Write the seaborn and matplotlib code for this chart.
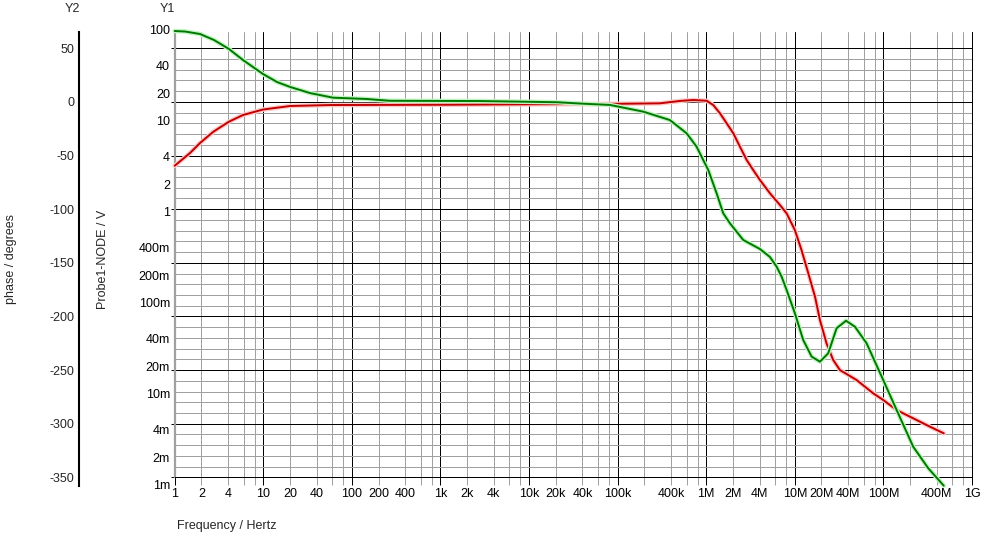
import numpy as np
import pandas as pd
import matplotlib
matplotlib.use("Agg")
import matplotlib.pyplot as plt
import matplotlib.patheffects as pe
import matplotlib.transforms as mtransforms
from matplotlib.ticker import NullLocator, FixedLocator, FixedFormatter
import seaborn as sns

# ---------------- data ----------------
freq_g = [1, 1.31, 1.93, 2.78, 4.10, 5.90, 9.92, 14.3, 20.0, 33.7, 61.2, 147, 269,
          2790, 20500, 40600, 81900, 194500, 389000, 601000, 779000, 925000,
          1.054e6, 1.31e6, 1.556e6, 1.853e6, 2.62e6, 4.04e6, 5.24e6, 6.23e6, 7.10e6,
          8.08e6, 1.002e7, 1.244e7, 1.549e7, 1.92e7, 2.38e7, 2.96e7, 3.78e7, 4.77e7,
          6.46e7, 9.95e7, 1.41e8, 2.17e8, 3.21e8, 4.8e8]
mag_g = [100, 98.7, 92.7, 79.6, 63.4, 48.0, 33.7, 27.5, 24.3, 20.8, 18.5, 17.9, 17.1,
         17.0, 16.5, 15.9, 15.4, 13.0, 10.5, 7.51, 5.35, 3.82,
         2.97, 1.646, 0.992, 0.770, 0.505, 0.402, 0.3285, 0.257, 0.1995,
         0.1426, 0.0791, 0.0402, 0.0264, 0.02323, 0.0287, 0.0541, 0.0655, 0.0563,
         0.0370, 0.01462, 0.00684, 0.00270, 0.001565, 0.001008]

freq_r = [1, 1.49, 1.93, 2.73, 4.10, 5.90, 9.92, 20, 56.6, 1280, 63100, 300000, 504000,
          708000, 1.01e6, 1.2e6, 1.43e6, 1.70e6, 2.02e6, 2.40e6, 2.86e6, 3.39e6, 4.04e6,
          5.24e6, 6.79e6, 8.08e6, 1.0e7, 1.19e7, 1.42e7, 1.69e7, 1.92e7, 2.28e7, 2.71e7,
          3.23e7, 4.98e7, 7.67e7, 9.95e7, 1.41e8, 2.17e8, 3.35e8, 4.8e8]
phase_r = [-59.5, -47.6, -38.3, -27.8, -18.4, -12.2, -7.1, -3.8, -2.9, -2.6, -1.9, -1.3, 0.9,
           1.8, 1.1, -2.9, -10.6, -19.9, -29.2, -41.7, -54.1, -63.5, -72.8,
           -85.2, -96.1, -103.9, -119.4, -138.1, -159.8, -181.6, -203.3, -225.1, -240.6,
           -250.0, -259.3, -271.7, -277.9, -287.3, -295.0, -302.8, -309.0]

x_major_vals = [1, 10, 100, 1e3, 1e4, 1e5, 1e6, 1e7, 1e8, 1e9]
x_major_labels = ["1", "10", "100", "1k", "10k", "100k", "1M", "10M", "100M", "1G"]
x_minor_vals = [2, 4, 20, 40, 200, 400, 2e3, 4e3, 2e4, 4e4, 4e5, 2e6, 4e6, 2e7, 4e7, 4e8]
x_minor_labels = ["2", "4", "20", "40", "200", "400", "2k", "4k", "20k", "40k", "400k",
                  "2M", "4M", "20M", "40M", "400M"]

y1_vals = [100, 40, 20, 10, 4, 2, 1, 0.4, 0.2, 0.1, 0.04, 0.02, 0.01, 0.004, 0.002, 0.001]
y1_labels = ["100", "40", "20", "10", "4", "2", "1", "400m", "200m", "100m", "40m",
             "20m", "10m", "4m", "2m", "1m"]
y2_vals = [50, 0, -50, -100, -150, -200, -250, -300, -350]
y2_labels = ["50", "0", "-50", "-100", "-150", "-200", "-250", "-300", "-350"]

# ---------------- style ----------------
sns.set_style("white")
plt.rcParams["font.family"] = ["Liberation Sans", "DejaVu Sans"]
plt.rcParams["font.size"] = 9

W, H = 981, 534
fig = plt.figure(figsize=(W / 100, H / 100), dpi=100)
fig.patch.set_facecolor("white")


def fx(px):
    return px / W


def fy(py):
    return 1 - py / H


L, R, T, B = 174.7, 972.0, 32.0, 477.3
GRAY = "#a0a0a0"

ax = fig.add_axes([fx(L), fy(B), (R - L) / W, (B - T) / H])
ax.set_xscale("log")

df_r = pd.DataFrame({"freq": freq_r, "phase": phase_r})
sns.lineplot(data=df_r, x="freq", y="phase", ax=ax, color="#c00000", lw=1.4,
             estimator=None, sort=False)
red_line = ax.lines[-1]
red_line.set_clip_on(False)
red_line.set_path_effects([pe.Stroke(linewidth=3.3, foreground="#ffc8c8"), pe.Normal()])
red_line.set_zorder(5)

# magnitude (Y1) on twin log axis
ax_g = ax.twinx()
ax_g.set_yscale("log")
df_g = pd.DataFrame({"freq": freq_g, "mag": mag_g})
sns.lineplot(data=df_g, x="freq", y="mag", ax=ax_g, color="#007800", lw=1.4,
             estimator=None, sort=False)
g_line = ax_g.lines[-1]
g_line.set_clip_on(False)
g_line.set_path_effects([pe.Stroke(linewidth=3.3, foreground="#c0f4c0"), pe.Normal()])
ax_g.set_ylim(10 ** (2 - (B - 31) / 91), 10 ** (2 - (T - 31) / 91))
ax_g.yaxis.set_major_locator(NullLocator())
ax_g.yaxis.set_minor_locator(NullLocator())
ax_g.set_ylabel("")
ax_g.set_xlabel("")
ax_g.grid(False)
for s in ax_g.spines.values():
    s.set_visible(False)

# ---------------- axes setup (after all plotting) ----------------
ax.set_xlim(1, 1e9)
ax.set_ylim(-350, 50 + (48.3 - T) / 1.0725)

minor_map = {round(float(np.log10(v)), 6): s for v, s in zip(x_minor_vals, x_minor_labels)}
minor_pos = [m * 10.0 ** k for k in range(0, 9) for m in (2, 4, 6, 8)]
minor_lbl = [minor_map.get(round(float(np.log10(v)), 6), "") for v in minor_pos]

ax.xaxis.set_major_locator(FixedLocator(x_major_vals))
ax.xaxis.set_major_formatter(FixedFormatter(x_major_labels))
ax.xaxis.set_minor_locator(FixedLocator(minor_pos))
ax.xaxis.set_minor_formatter(FixedFormatter(minor_lbl))
ax.tick_params(axis="x", which="both", direction="out", length=5.8, width=0.72, pad=2.0,
               labelsize=9, labelcolor="black", bottom=True)
ax.tick_params(axis="x", which="major", color="black")
ax.tick_params(axis="x", which="minor", color=GRAY)

ax.yaxis.set_major_locator(FixedLocator(y2_vals))
ax.yaxis.set_minor_locator(FixedLocator([v for v in range(-340, 41, 10) if v % 50 != 0]))
ax.tick_params(axis="y", which="major", direction="out", length=3, width=0.72,
               color="black", labelleft=False, left=True)
ax.tick_params(axis="y", which="minor", length=0, labelleft=False)

ax.set_axisbelow(True)
ax.grid(True, which="minor", axis="both", color=GRAY, lw=0.72)
ax.grid(True, which="major", axis="both", color="black", lw=0.72)
ax.set_xlabel("")
ax.set_ylabel("")

ax.spines["top"].set_visible(False)
ax.spines["left"].set_color(GRAY)
ax.spines["left"].set_linewidth(1.6)
ax.spines["bottom"].set_color("black")
ax.spines["bottom"].set_linewidth(0.72)
ax.spines["right"].set_color("black")
ax.spines["right"].set_linewidth(0.72)

trans = mtransforms.blended_transform_factory(ax.transAxes, ax_g.transData) + \
    mtransforms.ScaledTranslation(-4.7 / 100, 0, fig.dpi_scale_trans)
for v, s in zip(y1_vals, y1_labels):
    ax_g.text(0, v, s, transform=trans, ha="right", va="center", clip_on=False,
              fontsize=9, color="black")

# separate Y2 axis line with labels
Y2_TOP, Y2_BOT = 31.7, 485.7
ax2 = fig.add_axes([fx(79), fy(Y2_BOT), 0.0005, (Y2_BOT - Y2_TOP) / H])
ax2.set_facecolor("none")
ax2.set_ylim(-350 - (Y2_BOT - 477.3) / 1.0725, 50 + (48.3 - Y2_TOP) / 1.0725)
ax2.set_yticks(y2_vals, labels=y2_labels)
ax2.tick_params(axis="y", length=0, pad=3.6, labelsize=9)
ax2.xaxis.set_visible(False)
for s in ["top", "right", "bottom"]:
    ax2.spines[s].set_visible(False)
ax2.spines["left"].set_color("black")
ax2.spines["left"].set_linewidth(1.5)

# titles
fig.text(fx(72), fy(9.5), "Y2", ha="center", va="center", fontsize=9)
fig.text(fx(167), fy(9.5), "Y1", ha="center", va="center", fontsize=9)
fig.text(fx(11), fy(258.5), "phase / degrees", rotation=90, ha="center", va="center", fontsize=9)
fig.text(fx(103.5), fy(259.5), "Probe1-NODE / V", rotation=90, ha="center", va="center", fontsize=9)
fig.text(fx(177), fy(526), "Frequency / Hertz", ha="left", va="center", fontsize=9)

fig.savefig("out.png", dpi=100)
